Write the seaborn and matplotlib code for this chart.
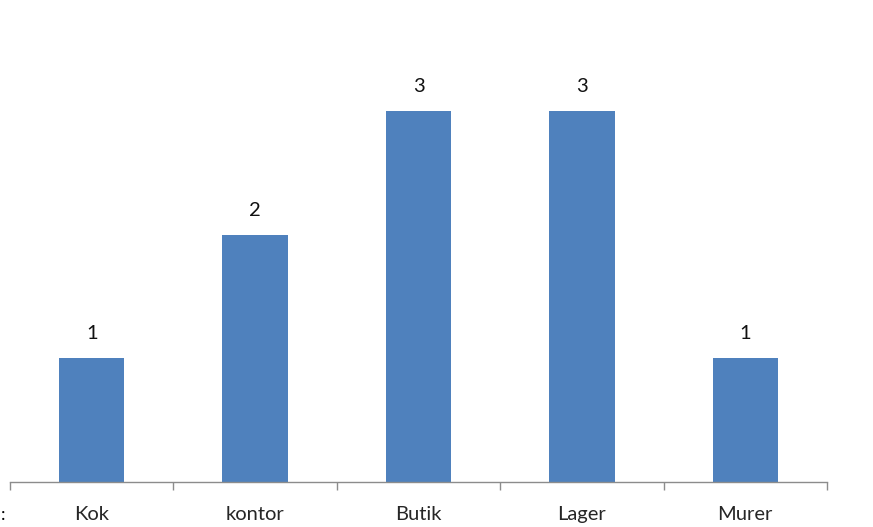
import matplotlib
matplotlib.use("Agg")
import matplotlib.pyplot as plt
import seaborn as sns
import pandas as pd
import numpy as np

categories = ["Kok", "kontor", "Butik", "Lager", "Murer"]
counts = [1, 2, 3, 3, 1]

df = pd.DataFrame({"kategori": categories, "antal": counts})

sns.set_style("white")
plt.rcParams["font.family"] = ["Lato", "DejaVu Sans"]

fig = plt.figure(figsize=(8.73, 5.27), dpi=100)
ax = fig.add_axes([10 / 873, 45 / 527, 817 / 873, 433 / 527])

sns.barplot(data=df, x="kategori", y="antal", ax=ax, color="#4F81BD",
            width=0.4, saturation=1, edgecolor="none")

for i, v in enumerate(counts):
    ax.annotate(str(v), (i, v), xytext=(0, 11.5), textcoords="offset points",
                ha="center", va="bottom", fontsize=14.5, color="#111111")

ax.set_xlim(-0.5, len(categories) - 0.5)
ax.set_ylim(0, 3.5)
ax.set_xlabel("")
ax.set_ylabel("")
ax.set_yticks([])

# tick marks sit between categories, labels under the bars
ax.set_xticks(list(np.arange(len(categories) + 1) - 0.5), minor=True)
ax.tick_params(axis="x", which="minor", length=6, width=1, color="#8c8c8c", direction="out", bottom=True)
ax.tick_params(axis="x", which="major", length=0, pad=17, labelsize=14.5, labelcolor="#262626")

for s in ["top", "right", "left"]:
    ax.spines[s].set_visible(False)
ax.spines["bottom"].set_color("#8c8c8c")
ax.spines["bottom"].set_linewidth(1)

fig.text(1 / 873, 12 / 527, ":", fontsize=13, color="#000000", ha="left", va="center")

fig.savefig("out.png", dpi=100, facecolor="white")
